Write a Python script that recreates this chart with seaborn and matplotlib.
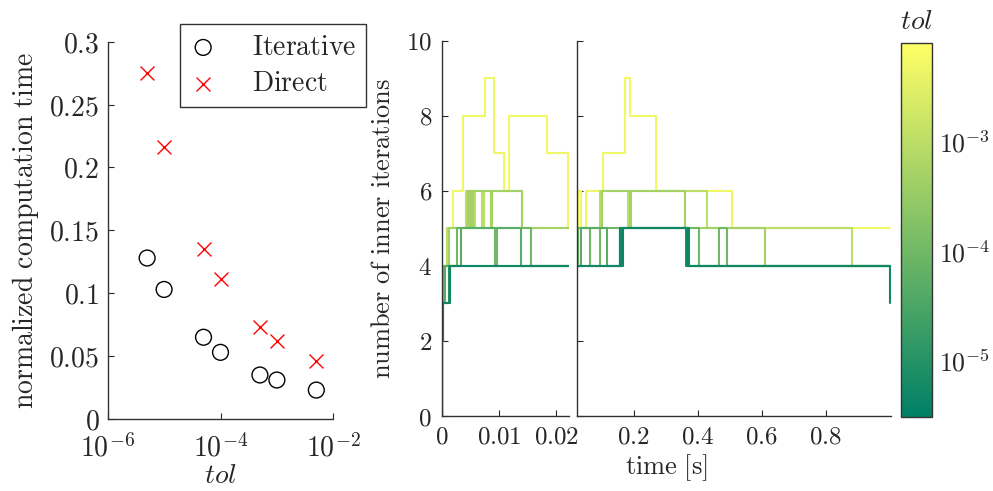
import numpy as np
import matplotlib
matplotlib.use("Agg")
import matplotlib.pyplot as plt
import seaborn as sns
from matplotlib.colors import LogNorm
from matplotlib.cm import ScalarMappable
from matplotlib.ticker import LogLocator, FuncFormatter, NullLocator

# tolerances and normalized computation time (left panel)
tol = [5e-6, 1e-5, 5e-5, 1e-4, 5e-4, 1e-3, 5e-3]
time_iterative = [0.128, 0.103, 0.065, 0.053, 0.035, 0.031, 0.023]
time_direct = [0.275, 0.216, 0.135, 0.111, 0.073, 0.062, 0.046]

# inner iterations per time step, one stair line per tolerance
t_5e3 = [0, 0.0001, 0.0006, 0.0012, 0.0019, 0.00365, 0.0076, 0.0092, 0.0109, 0.0118,
         0.0183, 0.0220, 0.0255, 0.037, 0.052, 0.103, 0.174, 0.190, 0.271, 0.507, 1.0]
n_5e3 = [0, 3, 4, 5, 6, 8, 9, 7, 6, 8, 7, 5, 6, 5, 6, 7, 9, 8, 6, 5, 5]

t_1e3 = [0, 0.0001, 0.0004, 0.0010, 0.0043, 0.0048, 0.0050, 0.0056, 0.0058, 0.0071,
         0.0073, 0.0140, 0.096, 0.181, 0.186, 0.429, 0.882, 1.0]
n_1e3 = [0, 3, 4, 5, 6, 5, 6, 5, 6, 5, 6, 5, 6, 5, 6, 5, 4, 4]

t_5e4 = [0, 0.0001, 0.0003, 0.0012, 0.0045, 0.0047, 0.0049, 0.0053, 0.0055, 0.0086,
         0.0088, 0.0140, 0.100, 0.190, 0.192, 0.359, 0.610, 1.0]
n_5e4 = [0, 3, 4, 5, 6, 5, 6, 5, 6, 5, 6, 5, 6, 5, 6, 5, 4, 4]

t_1e4 = [0, 0.0001, 0.0004, 0.0027, 0.0093, 0.0096, 0.0155, 0.025, 0.065, 0.096,
         0.403, 0.467, 0.493, 1.0]
n_1e4 = [0, 3, 4, 5, 4, 5, 4, 5, 4, 5, 4, 5, 4, 4]

t_5e5 = [0, 0.0001, 0.0006, 0.0034, 0.0138, 0.036, 0.118, 0.160, 0.370, 1.0]
n_5e5 = [0, 3, 4, 5, 4, 5, 4, 5, 4, 4]

t_1e5 = [0, 0.0001, 0.0003, 0.0013, 0.156, 0.159, 0.162, 0.364, 0.367, 0.371, 1.0]
n_1e5 = [0, 2, 3, 4, 5, 4, 5, 4, 5, 4, 4]

t_5e6 = [0, 0.0001, 0.0002, 0.0015, 0.158, 0.161, 0.166, 0.366, 0.369, 0.373, 1.0]
n_5e6 = [0, 2, 3, 4, 5, 4, 5, 4, 5, 4, 3]

# loosest tolerance drawn first, tightest on top
runs = [(5e-3, t_5e3, n_5e3), (1e-3, t_1e3, n_1e3), (5e-4, t_5e4, n_5e4),
        (1e-4, t_1e4, n_1e4), (5e-5, t_5e5, n_5e5), (1e-5, t_1e5, n_1e5),
        (5e-6, t_5e6, n_5e6)]

sns.set_style("ticks")
plt.rcParams["mathtext.fontset"] = "cm"
plt.rcParams["font.family"] = ["DejaVu Serif"]
plt.rcParams["xtick.direction"] = "in"
plt.rcParams["ytick.direction"] = "in"
plt.rcParams["axes.edgecolor"] = "#333333"
plt.rcParams["axes.linewidth"] = 1.0

W, H = 993, 491
fig = plt.figure(figsize=(W / 100, H / 100), dpi=100)


def px_axes(x0, x1, y0, y1):
    # pixel box (top-left origin) -> figure axes
    return fig.add_axes([x0 / W, 1 - y1 / H, (x1 - x0) / W, (y1 - y0) / H])


ax1 = px_axes(107.7, 333.3, 41.7, 419)
ax2 = px_axes(441.7, 569, 40.7, 416)
ax3 = px_axes(576.7, 890.7, 40.7, 416)
cax = px_axes(901, 932, 42.7, 416.7)

num_fmt = FuncFormatter(lambda v, p: f"${v:g}$")
pow_fmt = FuncFormatter(lambda v, p: f"$10^{{{int(round(np.log10(v)))}}}$")

# ---- left panel: computation time vs tol
sns.scatterplot(x=tol, y=time_iterative, ax=ax1, marker="o", s=130,
                facecolor="none", edgecolor="black", linewidth=1.0,
                label=r"$\mathrm{Iterative}$")
sns.scatterplot(x=tol, y=time_direct, ax=ax1, marker="x", s=100,
                color="red", linewidth=1.0, label=r"$\mathrm{Direct}$")
ax1.set_xscale("log")
ax1.set_xlim(1e-6, 1e-2)
ax1.set_ylim(0, 0.3)
ax1.set_yticks(np.arange(0, 0.31, 0.05))
ax1.yaxis.set_major_formatter(num_fmt)
ax1.xaxis.set_major_locator(LogLocator(base=100))
ax1.xaxis.set_minor_locator(LogLocator(base=10, subs=np.arange(1, 10)))
ax1.xaxis.set_major_formatter(pow_fmt)
ax1.tick_params(labelsize=20, length=4, width=0.8, pad=6)
ax1.tick_params(axis="x", pad=11)
ax1.tick_params(which="minor", length=2.5, width=0.6)
ax1.set_xlabel(r"$tol$", fontsize=20, labelpad=-1)
ax1.set_ylabel(r"$\mathrm{normalized\ computation\ time}$", fontsize=20, labelpad=6)
leg = ax1.legend(loc="upper right", bbox_to_anchor=(366 / W, 1 - 24 / H),
                 bbox_transform=fig.transFigure, borderaxespad=0, fontsize=20,
                 frameon=True, fancybox=False, edgecolor="#333333", framealpha=1,
                 handletextpad=1.25, borderpad=0.35, labelspacing=0.35,
                 handlelength=1.0)
leg.get_frame().set_linewidth(1.0)
sns.despine(ax=ax1)

# ---- middle panels: inner iterations vs time, broken time axis
cmap = plt.get_cmap("summer")
norm = LogNorm(vmin=3.1e-6, vmax=8e-3)
for tol_i, times, iters in runs:
    for ax in (ax2, ax3):
        sns.lineplot(x=times, y=iters, ax=ax, color=cmap(norm(tol_i)),
                     drawstyle="steps-post", estimator=None, sort=False,
                     linewidth=1.5, legend=False)

for ax in (ax2, ax3):
    ax.set_ylim(0, 10)
    ax.set_yticks(range(0, 11, 2))
    ax.tick_params(labelsize=18, length=4, width=0.8, pad=7)
    ax.xaxis.set_major_formatter(num_fmt)
    ax.yaxis.set_major_formatter(num_fmt)
    sns.despine(ax=ax)

ax2.set_xlim(0, 0.0222)
ax2.set_xticks([0, 0.01, 0.02])
ax2.set_ylabel(r"$\mathrm{number\ of\ inner\ iterations}$", fontsize=19, labelpad=8)
ax3.set_xlim(0.0222, 1.003)
ax3.set_xticks([0.2, 0.4, 0.6, 0.8])
ax3.tick_params(labelleft=False)
fig.text(666 / W, 1 - 468 / H, r"$\mathrm{time\ [s]}$", fontsize=19,
         ha="center", va="center")

# ---- colorbar
cb = fig.colorbar(ScalarMappable(norm=norm, cmap=cmap), cax=cax)
cb.set_ticks([1e-5, 1e-4, 1e-3])
cb.ax.yaxis.set_major_formatter(pow_fmt)
cb.ax.yaxis.set_minor_locator(NullLocator())
cb.ax.tick_params(labelsize=18.5, direction="in", length=4, width=0.8, pad=5)
cb.outline.set_edgecolor("#333333")
cb.outline.set_linewidth(1.0)
cax.set_title(r"$tol$", fontsize=20, pad=10)

fig.savefig("out.png", dpi=100)
